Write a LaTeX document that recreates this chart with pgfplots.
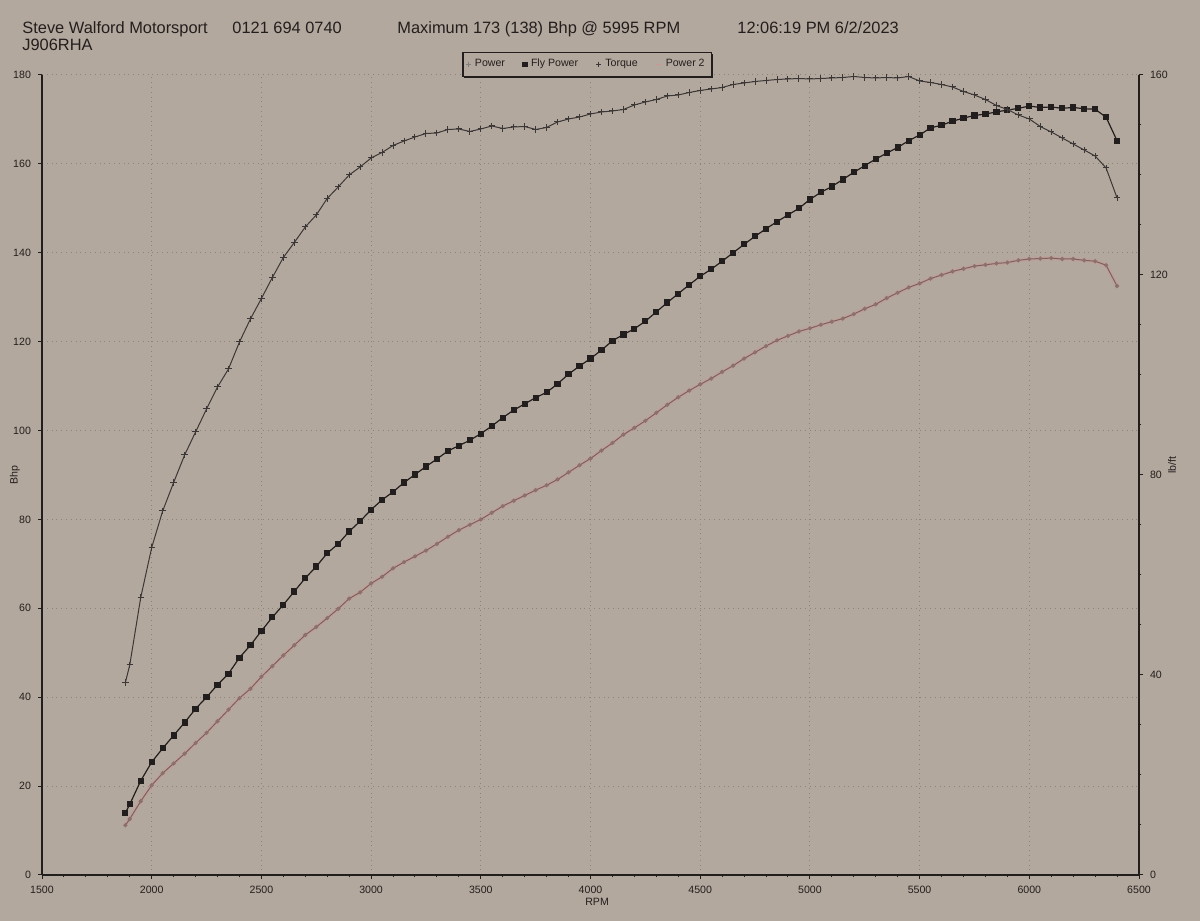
\documentclass[border=0pt]{standalone}
\usepackage{fontspec}
\setmainfont{Liberation Sans}
\usepackage{pgfplots}
\usepackage{pgfplotstable}
\pgfplotsset{compat=1.18}
\usetikzlibrary{shadows}
\definecolor{paper}{RGB}{179,168,157}
\definecolor{ink}{RGB}{35,30,30}
\definecolor{gridc}{RGB}{140,130,120}
\definecolor{torq}{RGB}{60,55,55}
\definecolor{ptwo}{RGB}{125,95,92}
\definecolor{ptwodot}{RGB}{140,112,108}
\definecolor{glow}{RGB}{200,152,148}

\pgfplotstableread{
rpm fly torque ptwo
1880 14.0 38.5 11.2
1900 15.9 42.0 12.6
1950 21.2 55.5 16.6
2000 25.4 65.5 20.2
2050 28.5 72.8 22.9
2100 31.4 78.5 25.1
2150 34.3 84.0 27.3
2200 37.4 88.6 29.7
2250 40.0 93.2 32.0
2300 42.8 97.6 34.6
2350 45.3 101.2 37.2
2400 48.9 106.6 39.8
2450 51.7 111.2 41.9
2500 54.9 115.3 44.6
2550 58.0 119.5 47.0
2600 60.8 123.5 49.4
2650 63.8 126.5 51.7
2700 66.8 129.6 54.0
2750 69.4 132.0 55.8
2800 72.4 135.3 57.8
2850 74.5 137.6 59.9
2900 77.3 140.0 62.2
2950 79.6 141.6 63.6
3000 82.2 143.4 65.6
3050 84.4 144.5 67.1
3100 86.2 145.9 69.0
3150 88.3 146.8 70.4
3200 90.1 147.6 71.7
3250 91.9 148.3 73.0
3300 93.6 148.4 74.5
3350 95.4 149.1 76.1
3400 96.6 149.2 77.6
3450 97.8 148.7 78.8
3500 99.3 149.2 80.0
3550 101.0 149.8 81.5
3600 102.9 149.3 83.0
3650 104.6 149.6 84.2
3700 106.0 149.7 85.4
3750 107.4 149.1 86.6
3800 108.6 149.5 87.7
3850 110.5 150.6 89.0
3900 112.7 151.2 90.6
3950 114.5 151.6 92.2
4000 116.2 152.2 93.7
4050 118.1 152.6 95.5
4100 120.2 152.8 97.2
4150 121.6 153.1 99.1
4200 122.9 154.0 100.6
4250 124.6 154.6 102.2
4300 126.7 155.1 104.0
4350 128.8 155.8 105.8
4400 130.8 156.0 107.5
4450 132.8 156.5 109.0
4500 134.7 156.9 110.4
4550 136.3 157.2 111.7
4600 138.1 157.5 113.2
4650 140.0 158.1 114.6
4700 141.9 158.4 116.2
4750 143.7 158.7 117.6
4800 145.4 158.9 119.0
4850 147.0 159.1 120.3
4900 148.5 159.2 121.3
4950 150.0 159.3 122.3
5000 152.0 159.2 123.0
5050 153.6 159.3 123.8
5100 154.9 159.4 124.5
5150 156.5 159.5 125.2
5200 158.1 159.7 126.2
5250 159.6 159.5 127.4
5300 161.1 159.4 128.4
5350 162.4 159.5 129.8
5400 163.7 159.4 131.0
5450 165.2 159.7 132.2
5500 166.5 158.8 133.1
5550 168.1 158.5 134.2
5600 168.7 158.1 135.0
5650 169.6 157.6 135.8
5700 170.3 156.7 136.4
5750 170.9 156.0 137.0
5800 171.2 155.1 137.3
5850 171.7 153.9 137.6
5900 172.1 153.1 137.8
5950 172.5 152.0 138.3
6000 173.0 151.2 138.6
6050 172.7 149.7 138.7
6100 172.8 148.6 138.8
6150 172.5 147.4 138.6
6200 172.7 146.2 138.6
6250 172.4 145.0 138.3
6300 172.3 143.8 138.1
6350 170.5 141.4 137.2
6400 165.2 135.4 132.5
}\dyno

\begin{document}
\begin{tikzpicture}
\path[use as bounding box, fill=paper] (0,0) rectangle (600pt,460.5pt);
\begin{scope}[font=\fontsize{8.2}{10}\selectfont, text=ink]
\node[anchor=base west, inner sep=0] at (11pt,443.5pt) {Steve Walford Motorsport};
\node[anchor=base west, inner sep=0] at (116pt,443.5pt) {0121 694 0740};
\node[anchor=base west, inner sep=0] at (198.5pt,443.5pt) {Maximum 173 (138) Bhp @ 5995 RPM};
\node[anchor=base west, inner sep=0] at (368.5pt,443.5pt) {12:06:19 PM 6/2/2023};
\node[anchor=base west, inner sep=0] at (11pt,435pt) {J906RHA};
\end{scope}

\begin{axis}[
  at={(21pt,23pt)}, anchor=south west,
  scale only axis, width=548.5pt, height=400pt,
  xmin=1500, xmax=6500, ymin=0, ymax=180,
  axis x line*=bottom, axis y line*=left,
  axis line style={-, ink, line width=1.2pt},
  xtick={1500,2000,...,6500}, ytick={0,20,...,180},
  minor x tick num=4,
  grid=major,
  major grid style={gridc, dotted, line width=0.5pt},
  tick align=outside,
  major tick length=2pt, minor tick length=1.2pt,
  tick style={ink, line width=0.5pt},
  ticklabel style={font=\fontsize{5.3}{6}\selectfont, text=ink},
  /pgf/number format/assume math mode=true,
  /pgf/number format/1000 sep={},
  clip=false,
  legend columns=4,
  legend cell align=left,
  legend style={at={(0.497,1)}, anchor=south, yshift=-1pt, draw=ink, line width=0.6pt,
    fill=paper, font=\fontsize{5.3}{6}\selectfont, text=ink, inner sep=1.4pt,
    drop shadow={shadow xshift=0.7pt, shadow yshift=-0.7pt, fill=ink, opacity=1},
    /tikz/every even column/.append style={column sep=7pt}},
]
\addplot[glow, opacity=0.4, line width=2.2pt, forget plot] table[x=rpm,y=ptwo]{\dyno};
\addplot[ptwo, line width=0.5pt, mark=*, mark size=0.8pt, mark options={fill=ptwodot, draw=ptwodot}, forget plot] table[x=rpm,y=ptwo]{\dyno};
\addplot[ink, line width=0.6pt, mark=square*, mark size=1.25pt, forget plot] table[x=rpm,y=fly]{\dyno};
\addlegendimage{only marks, mark=+, gray, mark size=1.3pt}
\addlegendentry{Power}
\addlegendimage{only marks, mark=square*, ink, mark size=1pt}
\addlegendentry{Fly Power}
\addlegendimage{only marks, mark=+, torq, mark size=1.3pt}
\addlegendentry{Torque}
\addlegendimage{only marks, mark=-, glow, mark size=1.5pt}
\addlegendentry{Power 2}
\node[font=\fontsize{5.3}{6}\selectfont, text=ink] at ([yshift=-13.5pt]axis description cs:0.506,0) {RPM};
\node[rotate=90, font=\fontsize{5.3}{6}\selectfont, text=ink] at ([xshift=-13.5pt]axis description cs:0,0.5) {Bhp};
\end{axis}

\begin{axis}[
  at={(21pt,23pt)}, anchor=south west,
  scale only axis, width=548.5pt, height=400pt,
  xmin=1500, xmax=6500, ymin=0, ymax=160,
  axis y line*=right, axis x line=none,
  axis line style={-, ink, line width=1.2pt},
  ytick={0,40,...,160}, minor y tick num=3,
  tick align=outside,
  major tick length=2pt, minor tick length=1.2pt,
  tick style={ink, line width=0.5pt},
  ticklabel style={font=\fontsize{5.3}{6}\selectfont, text=ink},
  /pgf/number format/assume math mode=true,
  clip=false,
]
\addplot[torq, line width=0.5pt, mark=+, mark size=1.6pt, mark options={line width=0.5pt}] table[x=rpm,y=torque]{\dyno};
\node[rotate=90, font=\fontsize{5.3}{6}\selectfont, text=ink] at ([xshift=16.5pt]axis description cs:1,0.5125) {lb/ft};
\end{axis}
\end{tikzpicture}
\end{document}
